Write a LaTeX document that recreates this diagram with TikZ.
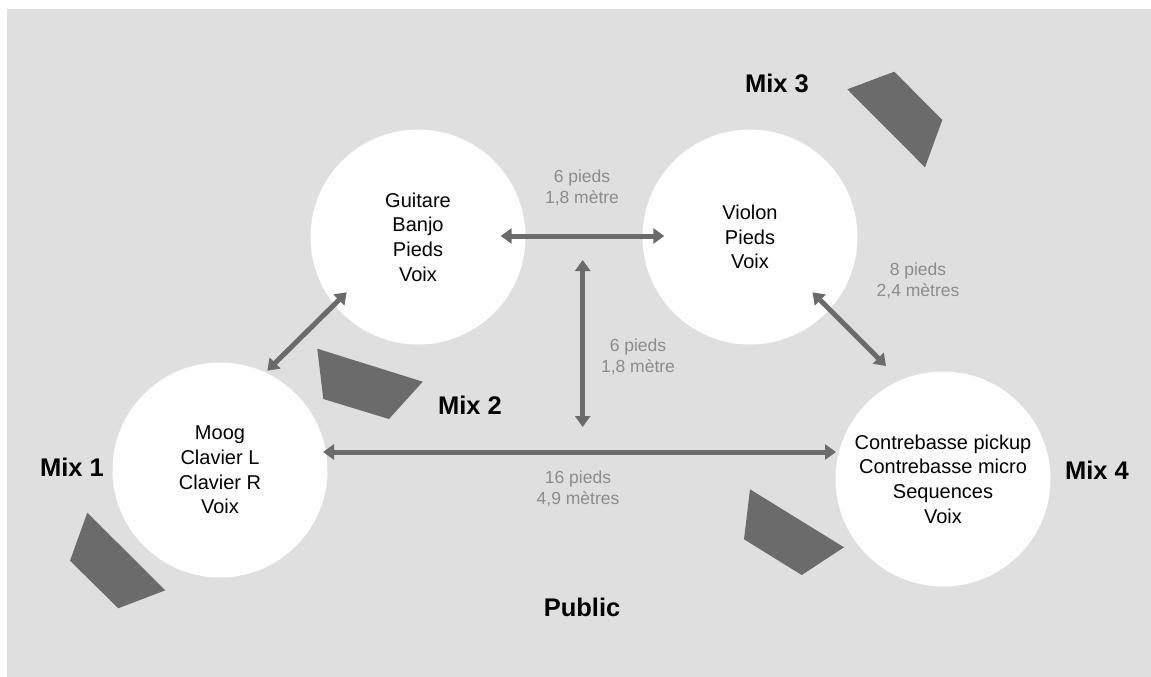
\documentclass[tikz,border=0pt]{standalone}
\usepackage{fontspec}
\setmainfont{Liberation Sans}
\usetikzlibrary{arrows.meta}
\definecolor{bg}{HTML}{DFDFDF}
\definecolor{dk}{HTML}{6B6B6B}
\definecolor{lbl}{HTML}{8C8C8C}
\begin{document}
\begin{tikzpicture}[x=1pt,y=-1pt,
  circ/.style={circle,fill=white,minimum size=215pt,inner sep=0pt,align=center,
    font=\fontsize{20}{24.6}\selectfont},
  mixlbl/.style={font=\bfseries\fontsize{25.5}{28}\selectfont,inner sep=0pt},
  dist/.style={text=lbl,align=center,inner sep=0pt,font=\fontsize{17.5}{21}\selectfont},
  wedge/.style={fill=dk},
  link/.style={draw=dk,line width=5pt,{Triangle[length=11pt,width=15pt]}-{Triangle[length=11pt,width=15pt]}}]
\useasboundingbox (0,0) rectangle (1151,677);
\fill[bg] (7,9) rectangle (1151,677);
% circles
\node[circ] (gui) at (418,237) {Guitare\\Banjo\\Pieds\\Voix};
\node[circ] (vio) at (750,237) {Violon\\Pieds\\Voix};
\node[circ] (moog) at (220,470) {Moog\\Clavier L\\Clavier R\\Voix};
\node[circ] (cb) at (943,479) {Contrebasse pickup\\Contrebasse micro\\Sequences\\Voix};
% monitors
\fill[wedge] (847.3,89.3) -- (894.3,71.7) -- (942.3,120) -- (925,167.3) -- cycle;
\fill[wedge] (317.3,348.7) -- (422.7,381.7) -- (389,419) -- (323.3,399) -- cycle;
\fill[wedge] (87.3,512.7) -- (165.3,590.3) -- (118.3,608.3) -- (70,560.7) -- cycle;
\fill[wedge] (750,489.3) -- (844,547.3) -- (801.7,575) -- (744,539.3) -- cycle;
% labels
\node[mixlbl] (mix3) at (777,83) {Mix 3};
\node[mixlbl] (mix2) at (470,405) {Mix 2};
\node[mixlbl] (mix1) at (72,467) {Mix 1};
\node[mixlbl] (mix4) at (1097,470) {Mix 4};
\node[mixlbl] (pub) at (582,607) {Public};
\node[dist] (d1) at (582,188) {6 pieds\\1,8 mètre};
\node[dist] (d2) at (638,357) {6 pieds\\1,8 mètre};
\node[dist] (d3) at (918,281) {8 pieds\\2,4 mètres};
\node[dist] (d4) at (578,489) {16 pieds\\4,9 mètres};
% arrow ends
\coordinate (a1) at (500.7,236);
\coordinate (a2) at (664.3,236);
\coordinate (b1) at (582.7,260);
\coordinate (b2) at (582.7,427);
\coordinate (c1) at (323,452);
\coordinate (c2) at (836,452);
\coordinate (e1) at (346.7,292.3);
\coordinate (e2) at (267.3,370.7);
\coordinate (f1) at (812.5,292.3);
\coordinate (f2) at (886,366);
\draw[link] (a1) -- (a2);
\draw[link] (b1) -- (b2);
\draw[link] (c1) -- (c2);
\draw[link] (e1) -- (e2);
\draw[link] (f1) -- (f2);
\end{tikzpicture}
\end{document}
